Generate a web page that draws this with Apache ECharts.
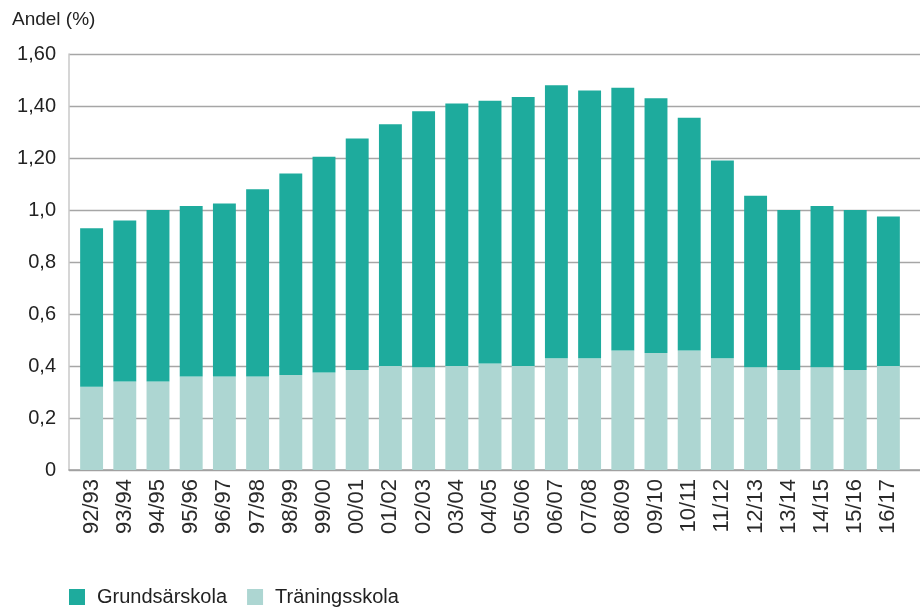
<!DOCTYPE html>
<html>
<head>
<meta charset="utf-8">
<script src="https://cdn.jsdelivr.net/npm/echarts@6/dist/echarts.min.js"></script>
<style>
  html, body { margin: 0; padding: 0; background: #fff; }
  #main { width: 920px; height: 608px; }
</style>
</head>
<body>
<div id="main"></div>
<script>
// läsår
const years = ['92/93', '93/94', '94/95', '95/96', '96/97', '97/98', '98/99', '99/00',
  '00/01', '01/02', '02/03', '03/04', '04/05', '05/06', '06/07', '07/08', '08/09',
  '09/10', '10/11', '11/12', '12/13', '13/14', '14/15', '15/16', '16/17'];

// andel elever i träningsskola (%)
const traningsskola = [0.32, 0.34, 0.34, 0.36, 0.36, 0.36, 0.365, 0.375, 0.385, 0.40,
  0.395, 0.40, 0.41, 0.40, 0.43, 0.43, 0.46, 0.45, 0.46, 0.43, 0.395, 0.385,
  0.395, 0.385, 0.40];

// andel elever i grundsärskola (%)
const grundsarskola = [0.61, 0.62, 0.66, 0.655, 0.665, 0.72, 0.775, 0.83, 0.89, 0.93,
  0.985, 1.01, 1.01, 1.035, 1.05, 1.03, 1.01, 0.98, 0.895, 0.76, 0.66, 0.615,
  0.62, 0.615, 0.575];

const yTickLabels = ['0', '0,2', '0,4', '0,6', '0,8', '1,0', '1,20', '1,40', '1,60'];

const darkTeal = '#1eab9d';
const lightTeal = '#add6d2';

let chart = echarts.init(document.getElementById('main'));

let option = {
  animation: false,
  textStyle: { fontFamily: 'Liberation Sans' },
  title: {
    text: 'Andel (%)',
    left: 7,
    top: 5,
    textStyle: { fontSize: 19, fontWeight: 'normal', color: '#222' }
  },
  // grid 0: gridlines + y axis, grid 1: the bars (inset a bit on both sides)
  grid: [
    { left: 69, right: 0, top: 54, bottom: 138 },
    { left: 75, right: 15, top: 54, bottom: 138 }
  ],
  legend: {
    data: ['Grundsärskola', 'Träningsskola'],
    left: 69,
    top: 587,
    padding: 0,
    icon: 'rect',
    itemWidth: 16,
    itemHeight: 16,
    itemGap: 20,
    textStyle: { fontSize: 20, color: '#222', padding: [0, 0, 0, 7] }
  },
  xAxis: [
    {
      gridIndex: 0,
      type: 'value',
      min: 0,
      max: 1,
      axisLine: { show: true, lineStyle: { color: '#a0a0a0', width: 1.5 } },
      axisTick: { show: false },
      axisLabel: { show: false },
      splitLine: { show: false }
    },
    {
      gridIndex: 1,
      type: 'category',
      data: years,
      axisLine: { show: false },
      axisTick: { show: false },
      axisLabel: { rotate: 90, fontSize: 22, color: '#2a2a2a', margin: 9 }
    }
  ],
  yAxis: [
    {
      gridIndex: 0,
      type: 'value',
      min: 0,
      max: 1.6,
      interval: 0.2,
      axisLine: { show: true, lineStyle: { color: '#c8c8c8', width: 1.5 } },
      axisTick: { show: false },
      splitLine: { lineStyle: { color: '#a6a6a6', width: 1.3 } },
      axisLabel: {
        fontSize: 20,
        color: '#222',
        margin: 13,
        formatter: function (v) {
          return yTickLabels[Math.round(v / 0.2)];
        }
      }
    },
    {
      gridIndex: 1,
      type: 'value',
      min: 0,
      max: 1.6,
      show: false
    }
  ],
  series: [
    {
      name: 'Träningsskola',
      type: 'bar',
      xAxisIndex: 1,
      yAxisIndex: 1,
      stack: 'total',
      barCategoryGap: '31%',
      itemStyle: { color: lightTeal },
      data: traningsskola
    },
    {
      name: 'Grundsärskola',
      type: 'bar',
      xAxisIndex: 1,
      yAxisIndex: 1,
      stack: 'total',
      barCategoryGap: '31%',
      itemStyle: { color: darkTeal },
      data: grundsarskola
    }
  ]
};

chart.setOption(option);
</script>
</body>
</html>
